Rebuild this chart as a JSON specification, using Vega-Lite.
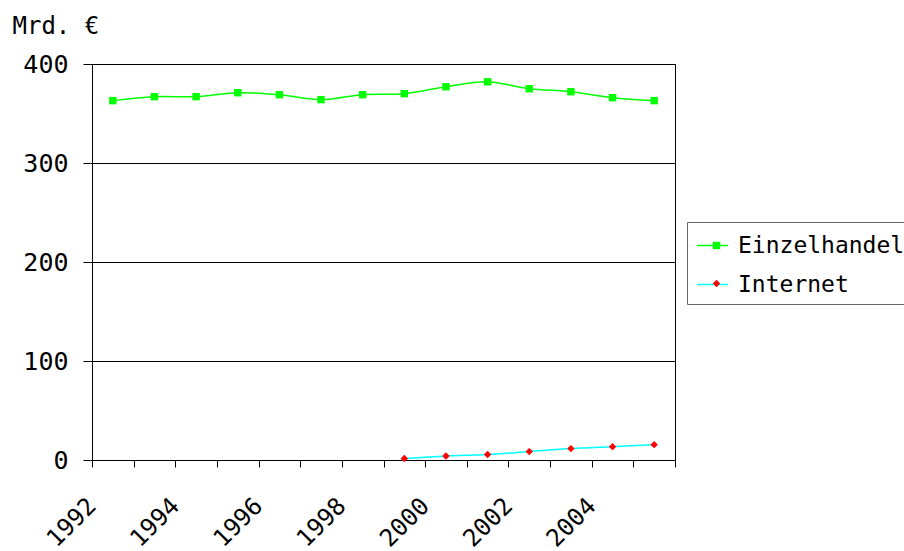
{
  "$schema": "https://vega.github.io/schema/vega-lite/v6.json",
  "width": 583,
  "height": 396,
  "autosize": {"type": "none"},
  "padding": {"left": 92, "top": 64, "right": 229, "bottom": 91},
  "background": "white",
  "config": {
    "view": {"stroke": "#000", "strokeWidth": 1},
    "font": "DejaVu Sans Mono"
  },
  "data": {
    "values": [
      {"year": 1992, "series": "Einzelhandel", "value": 363},
      {"year": 1993, "series": "Einzelhandel", "value": 367},
      {"year": 1994, "series": "Einzelhandel", "value": 367},
      {"year": 1995, "series": "Einzelhandel", "value": 371},
      {"year": 1996, "series": "Einzelhandel", "value": 369},
      {"year": 1997, "series": "Einzelhandel", "value": 364},
      {"year": 1998, "series": "Einzelhandel", "value": 369},
      {"year": 1999, "series": "Einzelhandel", "value": 370},
      {"year": 2000, "series": "Einzelhandel", "value": 377},
      {"year": 2001, "series": "Einzelhandel", "value": 382},
      {"year": 2002, "series": "Einzelhandel", "value": 375},
      {"year": 2003, "series": "Einzelhandel", "value": 372},
      {"year": 2004, "series": "Einzelhandel", "value": 366},
      {"year": 2005, "series": "Einzelhandel", "value": 363},
      {"year": 1999, "series": "Internet", "value": 1.5},
      {"year": 2000, "series": "Internet", "value": 4},
      {"year": 2001, "series": "Internet", "value": 5.5},
      {"year": 2002, "series": "Internet", "value": 8.5},
      {"year": 2003, "series": "Internet", "value": 11.5},
      {"year": 2004, "series": "Internet", "value": 13.5},
      {"year": 2005, "series": "Internet", "value": 15.5}
    ]
  },
  "encoding": {
    "x": {
      "field": "year",
      "type": "ordinal",
      "scale": {"paddingInner": 0, "paddingOuter": 0},
      "axis": {
        "title": null,
        "tickBand": "extent",
        "labelAngle": -45,
        "labelAlign": "right",
        "labelBaseline": "middle",
        "labelOffset": -20.8,
        "labelExpr": "datum.value % 2 == 0 ? datum.label : ''",
        "domainColor": "#000",
        "tickColor": "#000",
        "tickSize": 7,
        "labelFont": "DejaVu Sans Mono",
        "labelFontSize": 24,
        "labelColor": "#000",
        "labelPadding": 35,
        "grid": false
      }
    },
    "y": {
      "field": "value",
      "type": "quantitative",
      "scale": {"domain": [0, 400], "nice": false},
      "axis": {
        "title": "Mrd. €",
        "titleAngle": 0,
        "titleX": -80,
        "titleY": -31,
        "titleAlign": "left",
        "titleBaseline": "alphabetic",
        "titleFont": "DejaVu Sans Mono",
        "titleFontSize": 24,
        "titleFontWeight": "normal",
        "titleColor": "#000",
        "values": [0, 100, 200, 300, 400],
        "grid": true,
        "gridColor": "#000",
        "gridOpacity": 1,
        "tickColor": "#000",
        "tickSize": 9,
        "domainColor": "#000",
        "labelFont": "DejaVu Sans Mono",
        "labelFontSize": 25,
        "labelColor": "#000",
        "labelPadding": 15
      }
    }
  },
  "layer": [
    {
      "mark": {"type": "line", "strokeWidth": 1.5, "interpolate": "catmull-rom"},
      "encoding": {
        "stroke": {
          "field": "series",
          "type": "nominal",
          "scale": {"domain": ["Einzelhandel", "Internet"], "range": ["#00ff00", "#00ffff"]},
          "legend": {
            "title": null,
            "orient": "none",
            "legendX": 595,
            "legendY": 158,
            "strokeColor": "#666",
            "padding": 7,
            "symbolType": "stroke",
            "symbolSize": 961,
            "symbolOffset": 2,
            "symbolStrokeWidth": 1.5,
            "labelFont": "DejaVu Sans Mono",
            "labelFontSize": 23,
            "labelColor": "#000",
            "labelLimit": 400,
            "labelOffset": 9,
            "rowPadding": 10
          }
        }
      }
    },
    {
      "transform": [{"calculate": "datum.series", "as": "serie"}],
      "mark": {"type": "point", "filled": true, "size": 55, "opacity": 1, "strokeWidth": 0},
      "encoding": {
        "fill": {
          "field": "serie",
          "type": "nominal",
          "scale": {"range": ["#00ff00", "#ff0000"]},
          "legend": {
            "title": null,
            "orient": "none",
            "legendX": 604,
            "legendY": 161,
            "padding": 9,
            "symbolSize": 55,
            "symbolStrokeWidth": 0,
            "labelFont": "DejaVu Sans Mono",
            "labelFontSize": 23,
            "labelExpr": "''",
            "labelLimit": 400,
            "rowPadding": 14
          }
        },
        "shape": {
          "field": "serie",
          "type": "nominal",
          "scale": {"range": ["square", "diamond"]}
        }
      }
    }
  ]
}
